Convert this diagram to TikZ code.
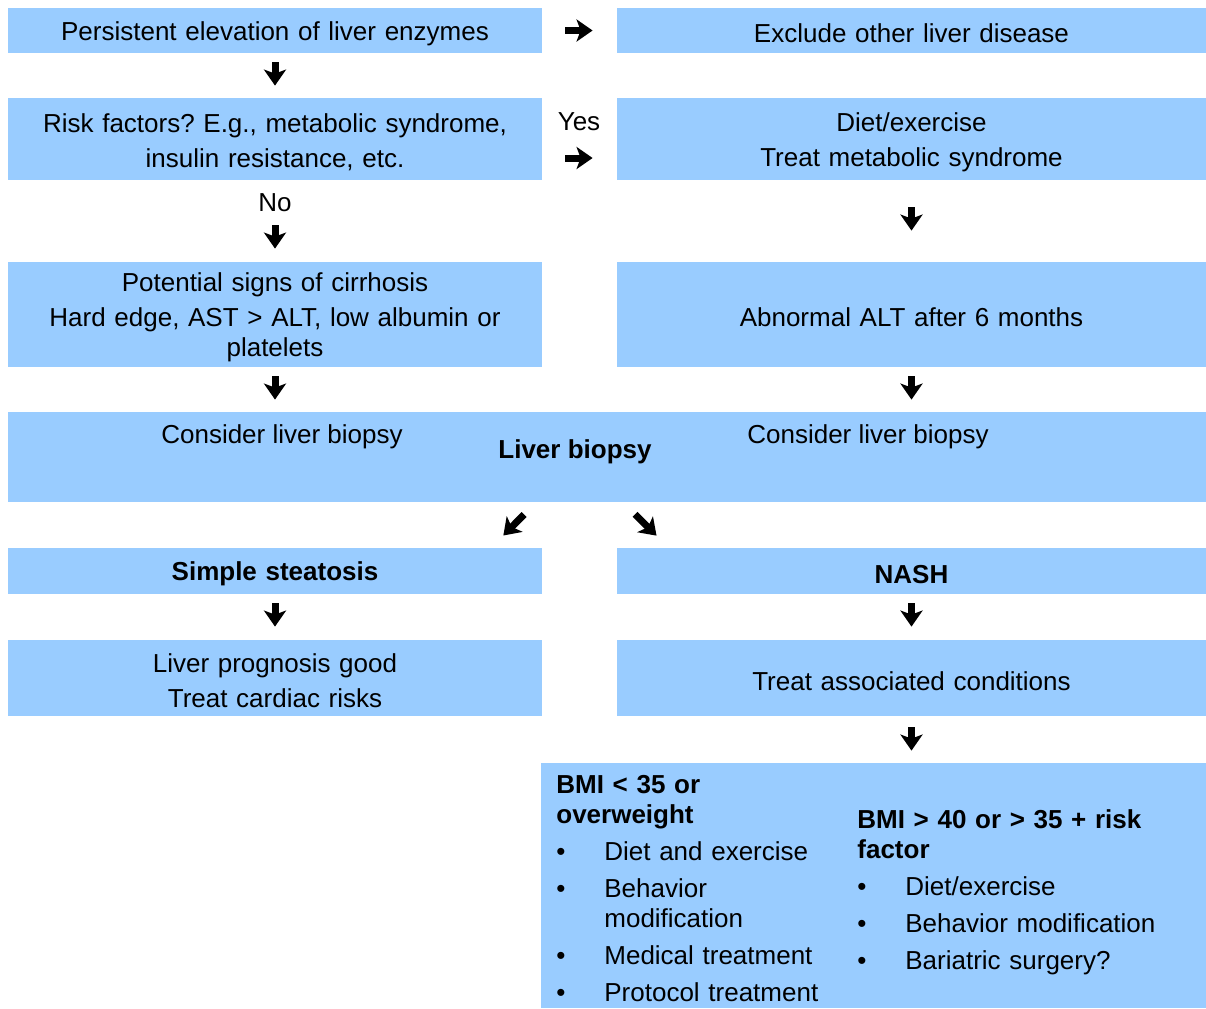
\documentclass[tikz,border=0pt]{standalone}
\usepackage{fontspec}
\setmainfont{Liberation Sans}
\usetikzlibrary{arrows.meta}
\definecolor{Sky}{HTML}{99CCFF}
\frenchspacing
\hyphenpenalty=10000
\exhyphenpenalty=10000
\newcommand\boxtop{\rule{0pt}{12.5pt}}
\newenvironment{bmilist}{\begin{list}{\textbullet}{\setlength\leftmargin{24pt}\setlength\labelwidth{21pt}\setlength\labelsep{3pt}\setlength\itemsep{3.5pt}\setlength\parsep{0pt}\setlength\topsep{3.5pt}\setlength\partopsep{0pt}\renewcommand\makelabel[1]{##1\hfil}}}{\end{list}}

\begin{document}
\begin{tikzpicture}[x=0.5pt,y=-0.5pt,
  font=\fontsize{13}{15}\selectfont,
  box/.style={fill=Sky,text width=#1,inner xsep=5pt,inner ysep=0pt,align=center,execute at begin node=\boxtop},
  blk/.style={-{Stealth[length=8pt,width=11pt,inset=2pt]},line width=3.5pt},
  lbl/.style={inner sep=0pt}
]
\useasboundingbox (0,0) rectangle (1206,1008);
% upper part
\node[box=257pt,minimum height=22.5pt] (pers) at (275,30.5) {Persistent elevation of liver enzymes};
\node[box=284.5pt,minimum height=22.5pt] (excl) at (911.5,30.5) {Exclude other liver disease};
\node[box=257pt,minimum height=41pt] (risk) at (275,139) {Risk factors? E.g., metabolic syndrome,\\[2.5pt]insulin resistance, etc.};
\node[box=284.5pt,minimum height=41pt] (diet) at (911.5,139) {Diet/exercise\\[2.5pt]Treat metabolic syndrome};
\node[box=257pt,minimum height=52.5pt] (cirr) at (275,314.5) {Potential signs of cirrhosis\\[2.5pt]Hard edge, AST > ALT, low albumin or\\platelets};
\node[box=284.5pt,minimum height=52.5pt] (alt) at (911.5,314.5) {Abnormal ALT after 6 months};
\node[box=589pt,minimum height=45pt] (biopsy) at (607,457) {};
\node[lbl] (consl) at (282,436.5) {Consider liver biopsy};
\node[lbl,font=\fontsize{13}{15}\selectfont\bfseries] (biolbl) at (575,451.5) {Liver biopsy};
\node[lbl] (consr) at (868,436.5) {Consider liver biopsy};
% lower part
\node[box=257pt,minimum height=23pt] (steat) at (275,571) {\textbf{Simple steatosis}};
\node[box=284.5pt,minimum height=23pt] (nash) at (911.5,571) {\textbf{NASH}};
\node[box=257pt,minimum height=38pt] (prog) at (275,678) {Liver prognosis good\\[2.5pt]Treat cardiac risks};
\node[box=284.5pt,minimum height=38pt] (assoc) at (911.5,678) {Treat associated conditions};
\node[fill=Sky,minimum width=332.5pt,minimum height=122.5pt,inner sep=0pt] (bmi) at (873.5,885.5) {};
\node[lbl,text width=135pt,align=left,anchor=north west] (lowbmi) at (556,775) {\textbf{BMI < 35 or overweight}
  \begin{bmilist}
  \item Diet and exercise
  \item Behavior modification
  \item Medical treatment
  \item Protocol treatment
  \end{bmilist}};
\node[lbl,text width=160pt,align=left,anchor=north west] (highbmi) at (857,809) {\textbf{BMI > 40 or > 35 + risk factor}
  \begin{bmilist}
  \item Diet/exercise
  \item Behavior modification
  \item Bariatric surgery?
  \end{bmilist}};
% arrows
\node[lbl] (yes) at (579,122) {Yes};
\node[lbl] (no) at (275,203) {No};
\draw[blk,shorten <=11.5pt,shorten >=12pt] (pers) -- (excl);
\draw[blk,shorten <=4.5pt,shorten >=6pt] (pers) -- (risk);
\draw[blk,shorten <=11.5pt,shorten >=12pt] ([yshift=-9.5pt]risk.east) -- ([yshift=-9.5pt]diet.west);
\draw[blk,shorten <=22.5pt,shorten >=6.5pt] (risk) -- (cirr);
\draw[blk,shorten <=13.5pt,shorten >=15.5pt] (diet) -- (alt);
\draw[blk,shorten <=4.5pt,shorten >=6pt] (cirr.south) -- (cirr.south |- biopsy.north);
\draw[blk,shorten <=4.5pt,shorten >=6pt] (alt.south) -- (alt.south |- biopsy.north);
\draw[blk,shorten <=8.5pt,shorten >=8.5pt] ([xshift=-35.5pt]biopsy.south) -- ([xshift=-25.5pt]steat.north east);
\draw[blk,shorten <=8.5pt,shorten >=8.5pt] ([xshift=8pt]biopsy.south) -- ([xshift=26pt]nash.north west);
\draw[blk,shorten <=4.5pt,shorten >=6.5pt] (steat) -- (prog);
\draw[blk,shorten <=4.5pt,shorten >=6.5pt] (nash) -- (assoc);
\draw[blk,shorten <=5.5pt,shorten >=6pt] (assoc.south) -- (assoc.south |- bmi.north);
\end{tikzpicture}
\end{document}
